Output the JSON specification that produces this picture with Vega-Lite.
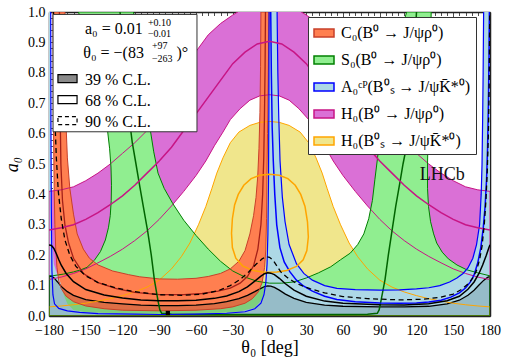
{
"$schema":"https://vega.github.io/schema/vega-lite/v6.json",
"width":441,"height":304,
"autosize":{"type":"none"},
"padding":{"left":49,"top":12,"right":15,"bottom":44},
"background":"white",
"config":{
 "view":{"stroke":null},
 "axis":{"labelFont":"Liberation Serif","labelFontSize":14,"labelColor":"#000","titleFont":"Liberation Serif","titleFontSize":18,"titleFontWeight":"normal","titleColor":"#000","domainColor":"#222","domainWidth":1.5,"tickColor":"#222","tickWidth":0.8,"grid":false,"zindex":1,"labelFlush":false,"labelOverlap":false}
},
"datasets":{
"poly":[
{"b":"Hd","i":0,"t":-180,"a":0.12},{"b":"Hd","i":1,"t":-170,"a":0.128},{"b":"Hd","i":2,"t":-160,"a":0.14},{"b":"Hd","i":3,"t":-150,"a":0.155},{"b":"Hd","i":4,"t":-140,"a":0.175},{"b":"Hd","i":5,"t":-130,"a":0.196},{"b":"Hd","i":6,"t":-120,"a":0.22},{"b":"Hd","i":7,"t":-110,"a":0.248},{"b":"Hd","i":8,"t":-100,"a":0.28},{"b":"Hd","i":9,"t":-90,"a":0.318},{"b":"Hd","i":10,"t":-80,"a":0.362},{"b":"Hd","i":11,"t":-70,"a":0.41},{"b":"Hd","i":12,"t":-60,"a":0.462},{"b":"Hd","i":13,"t":-52,"a":0.51},{"b":"Hd","i":14,"t":-45,"a":0.56},{"b":"Hd","i":15,"t":-38,"a":0.605},{"b":"Hd","i":16,"t":-32,"a":0.646},{"b":"Hd","i":17,"t":-24,"a":0.682},{"b":"Hd","i":18,"t":-16,"a":0.71},{"b":"Hd","i":19,"t":-8,"a":0.724},{"b":"Hd","i":20,"t":0,"a":0.728},{"b":"Hd","i":21,"t":8,"a":0.724},{"b":"Hd","i":22,"t":16,"a":0.71},{"b":"Hd","i":23,"t":24,"a":0.682},{"b":"Hd","i":24,"t":32,"a":0.646},{"b":"Hd","i":25,"t":38,"a":0.605},{"b":"Hd","i":26,"t":45,"a":0.56},{"b":"Hd","i":27,"t":52,"a":0.51},{"b":"Hd","i":28,"t":60,"a":0.462},{"b":"Hd","i":29,"t":70,"a":0.41},{"b":"Hd","i":30,"t":80,"a":0.362},{"b":"Hd","i":31,"t":90,"a":0.318},{"b":"Hd","i":32,"t":100,"a":0.28},{"b":"Hd","i":33,"t":110,"a":0.248},{"b":"Hd","i":34,"t":120,"a":0.22},{"b":"Hd","i":35,"t":130,"a":0.196},{"b":"Hd","i":36,"t":140,"a":0.175},{"b":"Hd","i":37,"t":150,"a":0.155},{"b":"Hd","i":38,"t":160,"a":0.14},{"b":"Hd","i":39,"t":170,"a":0.128},{"b":"Hd","i":40,"t":180,"a":0.12},
{"b":"Hd","i":41,"t":180,"a":0.41},{"b":"Hd","i":42,"t":170,"a":0.415},{"b":"Hd","i":43,"t":160,"a":0.425},{"b":"Hd","i":44,"t":150,"a":0.445},{"b":"Hd","i":45,"t":140,"a":0.47},{"b":"Hd","i":46,"t":130,"a":0.5},{"b":"Hd","i":47,"t":120,"a":0.535},{"b":"Hd","i":48,"t":110,"a":0.57},{"b":"Hd","i":49,"t":100,"a":0.61},{"b":"Hd","i":50,"t":90,"a":0.66},{"b":"Hd","i":51,"t":80,"a":0.72},{"b":"Hd","i":52,"t":70,"a":0.79},{"b":"Hd","i":53,"t":60,"a":0.87},{"b":"Hd","i":54,"t":50,"a":0.925},{"b":"Hd","i":55,"t":40,"a":0.962},{"b":"Hd","i":56,"t":30,"a":0.99},{"b":"Hd","i":57,"t":20,"a":1.015},{"b":"Hd","i":58,"t":10,"a":1.03},{"b":"Hd","i":59,"t":0,"a":1.035},{"b":"Hd","i":60,"t":-10,"a":1.03},{"b":"Hd","i":61,"t":-20,"a":1.015},{"b":"Hd","i":62,"t":-30,"a":0.99},{"b":"Hd","i":63,"t":-40,"a":0.962},{"b":"Hd","i":64,"t":-50,"a":0.925},{"b":"Hd","i":65,"t":-60,"a":0.87},{"b":"Hd","i":66,"t":-70,"a":0.79},{"b":"Hd","i":67,"t":-80,"a":0.72},{"b":"Hd","i":68,"t":-90,"a":0.66},{"b":"Hd","i":69,"t":-100,"a":0.61},{"b":"Hd","i":70,"t":-110,"a":0.57},{"b":"Hd","i":71,"t":-120,"a":0.535},{"b":"Hd","i":72,"t":-130,"a":0.5},{"b":"Hd","i":73,"t":-140,"a":0.47},{"b":"Hd","i":74,"t":-150,"a":0.445},{"b":"Hd","i":75,"t":-160,"a":0.425},{"b":"Hd","i":76,"t":-170,"a":0.415},{"b":"Hd","i":77,"t":-180,"a":0.41},{"b":"Hd","i":78,"t":-180,"a":0.12},
{"b":"Hs","i":0,"t":-180,"a":0},{"b":"Hs","i":1,"t":-180,"a":0.03},{"b":"Hs","i":2,"t":-170,"a":0.033},{"b":"Hs","i":3,"t":-160,"a":0.037},{"b":"Hs","i":4,"t":-150,"a":0.042},{"b":"Hs","i":5,"t":-140,"a":0.049},{"b":"Hs","i":6,"t":-130,"a":0.057},{"b":"Hs","i":7,"t":-120,"a":0.067},{"b":"Hs","i":8,"t":-110,"a":0.079},{"b":"Hs","i":9,"t":-100,"a":0.095},{"b":"Hs","i":10,"t":-90,"a":0.118},{"b":"Hs","i":11,"t":-80,"a":0.155},{"b":"Hs","i":12,"t":-72,"a":0.195},{"b":"Hs","i":13,"t":-65,"a":0.24},{"b":"Hs","i":14,"t":-58,"a":0.3},{"b":"Hs","i":15,"t":-52,"a":0.36},{"b":"Hs","i":16,"t":-47,"a":0.42},{"b":"Hs","i":17,"t":-43,"a":0.47},{"b":"Hs","i":18,"t":-38,"a":0.52},{"b":"Hs","i":19,"t":-32,"a":0.57},{"b":"Hs","i":20,"t":-25,"a":0.605},{"b":"Hs","i":21,"t":-16,"a":0.627},{"b":"Hs","i":22,"t":-8,"a":0.637},{"b":"Hs","i":23,"t":0,"a":0.64},{"b":"Hs","i":24,"t":8,"a":0.637},{"b":"Hs","i":25,"t":16,"a":0.627},{"b":"Hs","i":26,"t":25,"a":0.605},{"b":"Hs","i":27,"t":32,"a":0.57},{"b":"Hs","i":28,"t":38,"a":0.52},{"b":"Hs","i":29,"t":43,"a":0.47},{"b":"Hs","i":30,"t":47,"a":0.42},{"b":"Hs","i":31,"t":52,"a":0.36},{"b":"Hs","i":32,"t":58,"a":0.3},{"b":"Hs","i":33,"t":65,"a":0.24},{"b":"Hs","i":34,"t":72,"a":0.195},{"b":"Hs","i":35,"t":80,"a":0.155},{"b":"Hs","i":36,"t":90,"a":0.118},{"b":"Hs","i":37,"t":100,"a":0.095},{"b":"Hs","i":38,"t":110,"a":0.079},{"b":"Hs","i":39,"t":120,"a":0.067},{"b":"Hs","i":40,"t":130,"a":0.057},{"b":"Hs","i":41,"t":140,"a":0.049},{"b":"Hs","i":42,"t":150,"a":0.042},{"b":"Hs","i":43,"t":160,"a":0.037},{"b":"Hs","i":44,"t":170,"a":0.033},{"b":"Hs","i":45,"t":180,"a":0.03},{"b":"Hs","i":46,"t":180,"a":0},{"b":"Hs","i":47,"t":-180,"a":0},
{"b":"S0","i":0,"t":-180,"a":0},{"b":"S0","i":1,"t":-180,"a":0.132},{"b":"S0","i":2,"t":-176,"a":0.133},{"b":"S0","i":3,"t":-168,"a":0.138},{"b":"S0","i":4,"t":-160,"a":0.145},{"b":"S0","i":5,"t":-154,"a":0.152},{"b":"S0","i":6,"t":-149,"a":0.16},{"b":"S0","i":7,"t":-143,"a":0.183},{"b":"S0","i":8,"t":-138,"a":0.212},{"b":"S0","i":9,"t":-134,"a":0.25},{"b":"S0","i":10,"t":-131.5,"a":0.29},{"b":"S0","i":11,"t":-130,"a":0.33},{"b":"S0","i":12,"t":-129.2,"a":0.38},{"b":"S0","i":13,"t":-129,"a":0.43},{"b":"S0","i":14,"t":-129.4,"a":0.49},{"b":"S0","i":15,"t":-130.5,"a":0.55},{"b":"S0","i":16,"t":-132.5,"a":0.62},{"b":"S0","i":17,"t":-135.5,"a":0.69},{"b":"S0","i":18,"t":-139.5,"a":0.77},{"b":"S0","i":19,"t":-144.5,"a":0.85},{"b":"S0","i":20,"t":-150,"a":0.93},{"b":"S0","i":21,"t":-156,"a":1},{"b":"S0","i":22,"t":-111,"a":1},{"b":"S0","i":23,"t":-106.5,"a":0.86},{"b":"S0","i":24,"t":-102,"a":0.74},{"b":"S0","i":25,"t":-98,"a":0.63},{"b":"S0","i":26,"t":-94.5,"a":0.54},{"b":"S0","i":27,"t":-91,"a":0.47},{"b":"S0","i":28,"t":-86,"a":0.42},{"b":"S0","i":29,"t":-79,"a":0.37},{"b":"S0","i":30,"t":-70,"a":0.315},{"b":"S0","i":31,"t":-60,"a":0.265},{"b":"S0","i":32,"t":-50,"a":0.22},{"b":"S0","i":33,"t":-40,"a":0.18},{"b":"S0","i":34,"t":-30,"a":0.148},{"b":"S0","i":35,"t":-20,"a":0.128},{"b":"S0","i":36,"t":-10,"a":0.114},{"b":"S0","i":37,"t":0,"a":0.108},{"b":"S0","i":38,"t":10,"a":0.108},{"b":"S0","i":39,"t":20,"a":0.112},{"b":"S0","i":40,"t":30,"a":0.125},{"b":"S0","i":41,"t":40,"a":0.142},{"b":"S0","i":42,"t":50,"a":0.162},{"b":"S0","i":43,"t":58,"a":0.185},{"b":"S0","i":44,"t":66,"a":0.207},{"b":"S0","i":45,"t":72,"a":0.235},{"b":"S0","i":46,"t":77,"a":0.27},{"b":"S0","i":47,"t":81,"a":0.32},{"b":"S0","i":48,"t":84,"a":0.38},{"b":"S0","i":49,"t":86,"a":0.448},{"b":"S0","i":50,"t":88.5,"a":0.53},{"b":"S0","i":51,"t":92,"a":0.63},{"b":"S0","i":52,"t":96,"a":0.73},{"b":"S0","i":53,"t":101,"a":0.83},{"b":"S0","i":54,"t":106,"a":0.92},{"b":"S0","i":55,"t":112,"a":1},{"b":"S0","i":56,"t":132,"a":1},{"b":"S0","i":57,"t":131,"a":0.8},{"b":"S0","i":58,"t":130,"a":0.71},{"b":"S0","i":59,"t":129.5,"a":0.6},{"b":"S0","i":60,"t":129,"a":0.5},{"b":"S0","i":61,"t":129,"a":0.42},{"b":"S0","i":62,"t":129.8,"a":0.36},{"b":"S0","i":63,"t":131.5,"a":0.31},{"b":"S0","i":64,"t":134,"a":0.27},{"b":"S0","i":65,"t":136.5,"a":0.24},{"b":"S0","i":66,"t":141,"a":0.21},{"b":"S0","i":67,"t":146,"a":0.188},{"b":"S0","i":68,"t":153,"a":0.168},{"b":"S0","i":69,"t":161,"a":0.152},{"b":"S0","i":70,"t":170,"a":0.142},{"b":"S0","i":71,"t":180,"a":0.132},{"b":"S0","i":72,"t":180,"a":0},{"b":"S0","i":73,"t":-180,"a":0},
{"b":"C0","i":0,"t":-176.7,"a":1},{"b":"C0","i":1,"t":-167,"a":1},{"b":"C0","i":2,"t":-166,"a":0.62},{"b":"C0","i":3,"t":-165,"a":0.52},{"b":"C0","i":4,"t":-163,"a":0.42},{"b":"C0","i":5,"t":-160,"a":0.335},{"b":"C0","i":6,"t":-157,"a":0.27},{"b":"C0","i":7,"t":-152,"a":0.22},{"b":"C0","i":8,"t":-147,"a":0.19},{"b":"C0","i":9,"t":-140,"a":0.168},{"b":"C0","i":10,"t":-128,"a":0.148},{"b":"C0","i":11,"t":-115,"a":0.136},{"b":"C0","i":12,"t":-106,"a":0.129},{"b":"C0","i":13,"t":-90,"a":0.122},{"b":"C0","i":14,"t":-75,"a":0.121},{"b":"C0","i":15,"t":-60,"a":0.124},{"b":"C0","i":16,"t":-50,"a":0.13},{"b":"C0","i":17,"t":-40,"a":0.14},{"b":"C0","i":18,"t":-32,"a":0.155},{"b":"C0","i":19,"t":-25,"a":0.18},{"b":"C0","i":20,"t":-20,"a":0.215},{"b":"C0","i":21,"t":-16,"a":0.27},{"b":"C0","i":22,"t":-13,"a":0.33},{"b":"C0","i":23,"t":-11,"a":0.39},{"b":"C0","i":24,"t":-9.6,"a":0.46},{"b":"C0","i":25,"t":-8.6,"a":0.55},{"b":"C0","i":26,"t":-7.8,"a":0.67},{"b":"C0","i":27,"t":-7.3,"a":0.82},{"b":"C0","i":28,"t":-7,"a":1},{"b":"C0","i":29,"t":-0.3,"a":1},{"b":"C0","i":30,"t":-1,"a":0.8},{"b":"C0","i":31,"t":-1.6,"a":0.6},{"b":"C0","i":32,"t":-2.1,"a":0.45},{"b":"C0","i":33,"t":-2.4,"a":0.32},{"b":"C0","i":34,"t":-3,"a":0.22},{"b":"C0","i":35,"t":-4,"a":0.16},{"b":"C0","i":36,"t":-6,"a":0.11},{"b":"C0","i":37,"t":-9,"a":0.08},{"b":"C0","i":38,"t":-14,"a":0.057},{"b":"C0","i":39,"t":-20,"a":0.042},{"b":"C0","i":40,"t":-30,"a":0.03},{"b":"C0","i":41,"t":-40,"a":0.024},{"b":"C0","i":42,"t":-60,"a":0.019},{"b":"C0","i":43,"t":-90,"a":0.017},{"b":"C0","i":44,"t":-120,"a":0.019},{"b":"C0","i":45,"t":-135,"a":0.024},{"b":"C0","i":46,"t":-150,"a":0.033},{"b":"C0","i":47,"t":-160,"a":0.047},{"b":"C0","i":48,"t":-166,"a":0.065},{"b":"C0","i":49,"t":-170,"a":0.09},{"b":"C0","i":50,"t":-172,"a":0.115},{"b":"C0","i":51,"t":-173.5,"a":0.16},{"b":"C0","i":52,"t":-174.5,"a":0.22},{"b":"C0","i":53,"t":-175.2,"a":0.3},{"b":"C0","i":54,"t":-175.8,"a":0.42},{"b":"C0","i":55,"t":-176.3,"a":0.6},{"b":"C0","i":56,"t":-176.7,"a":1},
{"b":"A0","i":0,"t":-180,"a":0},{"b":"A0","i":1,"t":-180,"a":1},{"b":"A0","i":2,"t":-178.6,"a":1},{"b":"A0","i":3,"t":-178.3,"a":0.6},{"b":"A0","i":4,"t":-178,"a":0.42},{"b":"A0","i":5,"t":-177.6,"a":0.3},{"b":"A0","i":6,"t":-177,"a":0.22},{"b":"A0","i":7,"t":-176,"a":0.17},{"b":"A0","i":8,"t":-174,"a":0.145},{"b":"A0","i":9,"t":-172,"a":0.128},{"b":"A0","i":10,"t":-170,"a":0.1},{"b":"A0","i":11,"t":-168,"a":0.07},{"b":"A0","i":12,"t":-165,"a":0.04},{"b":"A0","i":13,"t":-160,"a":0.02},{"b":"A0","i":14,"t":-150,"a":0.012},{"b":"A0","i":15,"t":-120,"a":0.008},{"b":"A0","i":16,"t":-90,"a":0.006},{"b":"A0","i":17,"t":-50,"a":0.008},{"b":"A0","i":18,"t":-25,"a":0.014},{"b":"A0","i":19,"t":-12,"a":0.028},{"b":"A0","i":20,"t":-6,"a":0.055},{"b":"A0","i":21,"t":-3.5,"a":0.1},{"b":"A0","i":22,"t":-2.2,"a":0.18},{"b":"A0","i":23,"t":-1.4,"a":0.3},{"b":"A0","i":24,"t":-0.9,"a":0.5},{"b":"A0","i":25,"t":-0.5,"a":0.75},{"b":"A0","i":26,"t":-0.3,"a":1},{"b":"A0","i":27,"t":6.2,"a":1},{"b":"A0","i":28,"t":6.8,"a":0.8},{"b":"A0","i":29,"t":7.6,"a":0.65},{"b":"A0","i":30,"t":8.6,"a":0.51},{"b":"A0","i":31,"t":10.5,"a":0.39},{"b":"A0","i":32,"t":12.7,"a":0.31},{"b":"A0","i":33,"t":16,"a":0.235},{"b":"A0","i":34,"t":22,"a":0.172},{"b":"A0","i":35,"t":28,"a":0.14},{"b":"A0","i":36,"t":35,"a":0.118},{"b":"A0","i":37,"t":45,"a":0.1},{"b":"A0","i":38,"t":55,"a":0.091},{"b":"A0","i":39,"t":70,"a":0.087},{"b":"A0","i":40,"t":90,"a":0.085},{"b":"A0","i":41,"t":106,"a":0.086},{"b":"A0","i":42,"t":120,"a":0.089},{"b":"A0","i":43,"t":130,"a":0.093},{"b":"A0","i":44,"t":139,"a":0.1},{"b":"A0","i":45,"t":147,"a":0.112},{"b":"A0","i":46,"t":153,"a":0.125},{"b":"A0","i":47,"t":158,"a":0.14},{"b":"A0","i":48,"t":162,"a":0.158},{"b":"A0","i":49,"t":166,"a":0.19},{"b":"A0","i":50,"t":169,"a":0.235},{"b":"A0","i":51,"t":171.5,"a":0.3},{"b":"A0","i":52,"t":172.8,"a":0.4},{"b":"A0","i":53,"t":173.5,"a":0.5},{"b":"A0","i":54,"t":174,"a":0.65},{"b":"A0","i":55,"t":174.4,"a":0.8},{"b":"A0","i":56,"t":174.8,"a":1},{"b":"A0","i":57,"t":180,"a":1},{"b":"A0","i":58,"t":180,"a":0},{"b":"A0","i":59,"t":-180,"a":0},
{"b":"CL39","i":0,"t":-180,"a":0},{"b":"CL39","i":1,"t":-180,"a":0.13},{"b":"CL39","i":2,"t":-178,"a":0.131},{"b":"CL39","i":3,"t":-176,"a":0.126},{"b":"CL39","i":4,"t":-173,"a":0.112},{"b":"CL39","i":5,"t":-170,"a":0.097},{"b":"CL39","i":6,"t":-165,"a":0.08},{"b":"CL39","i":7,"t":-160,"a":0.068},{"b":"CL39","i":8,"t":-150,"a":0.054},{"b":"CL39","i":9,"t":-135,"a":0.045},{"b":"CL39","i":10,"t":-120,"a":0.04},{"b":"CL39","i":11,"t":-105,"a":0.036},{"b":"CL39","i":12,"t":-90,"a":0.034},{"b":"CL39","i":13,"t":-75,"a":0.034},{"b":"CL39","i":14,"t":-60,"a":0.036},{"b":"CL39","i":15,"t":-45,"a":0.041},{"b":"CL39","i":16,"t":-35,"a":0.047},{"b":"CL39","i":17,"t":-25,"a":0.057},{"b":"CL39","i":18,"t":-18,"a":0.068},{"b":"CL39","i":19,"t":-12,"a":0.08},{"b":"CL39","i":20,"t":-7,"a":0.091},{"b":"CL39","i":21,"t":-4,"a":0.097},{"b":"CL39","i":22,"t":-1.5,"a":0.099},{"b":"CL39","i":23,"t":1,"a":0.098},{"b":"CL39","i":24,"t":4,"a":0.094},{"b":"CL39","i":25,"t":8,"a":0.085},{"b":"CL39","i":26,"t":13,"a":0.072},{"b":"CL39","i":27,"t":20,"a":0.058},{"b":"CL39","i":28,"t":30,"a":0.045},{"b":"CL39","i":29,"t":45,"a":0.036},{"b":"CL39","i":30,"t":60,"a":0.032},{"b":"CL39","i":31,"t":90,"a":0.03},{"b":"CL39","i":32,"t":110,"a":0.03},{"b":"CL39","i":33,"t":130,"a":0.032},{"b":"CL39","i":34,"t":145,"a":0.04},{"b":"CL39","i":35,"t":155,"a":0.052},{"b":"CL39","i":36,"t":162,"a":0.068},{"b":"CL39","i":37,"t":167,"a":0.085},{"b":"CL39","i":38,"t":171,"a":0.102},{"b":"CL39","i":39,"t":175,"a":0.118},{"b":"CL39","i":40,"t":178,"a":0.127},{"b":"CL39","i":41,"t":180,"a":0.13},{"b":"CL39","i":42,"t":180,"a":0},{"b":"CL39","i":43,"t":-180,"a":0}
],
"curves":[
{"c":"c0mid","i":0,"t":-171.5,"a":1},{"c":"c0mid","i":1,"t":-171,"a":0.7},{"c":"c0mid","i":2,"t":-170.3,"a":0.5},{"c":"c0mid","i":3,"t":-169,"a":0.38},{"c":"c0mid","i":4,"t":-167,"a":0.3},{"c":"c0mid","i":5,"t":-164,"a":0.24},{"c":"c0mid","i":6,"t":-160,"a":0.19},{"c":"c0mid","i":7,"t":-152,"a":0.14},{"c":"c0mid","i":8,"t":-140,"a":0.11},{"c":"c0mid","i":9,"t":-125,"a":0.09},{"c":"c0mid","i":10,"t":-110,"a":0.078},{"c":"c0mid","i":11,"t":-90,"a":0.07},{"c":"c0mid","i":12,"t":-70,"a":0.07},{"c":"c0mid","i":13,"t":-55,"a":0.074},{"c":"c0mid","i":14,"t":-42,"a":0.082},{"c":"c0mid","i":15,"t":-32,"a":0.092},{"c":"c0mid","i":16,"t":-24,"a":0.108},{"c":"c0mid","i":17,"t":-18,"a":0.13},{"c":"c0mid","i":18,"t":-13,"a":0.165},{"c":"c0mid","i":19,"t":-9.5,"a":0.22},{"c":"c0mid","i":20,"t":-7,"a":0.3},{"c":"c0mid","i":21,"t":-5.6,"a":0.4},{"c":"c0mid","i":22,"t":-4.7,"a":0.52},{"c":"c0mid","i":23,"t":-4.1,"a":0.66},{"c":"c0mid","i":24,"t":-3.6,"a":0.82},{"c":"c0mid","i":25,"t":-3.3,"a":1},
{"c":"s0mid","i":0,"t":-122,"a":1},{"c":"s0mid","i":1,"t":-119,"a":0.85},{"c":"s0mid","i":2,"t":-116,"a":0.7},{"c":"s0mid","i":3,"t":-112,"a":0.57},{"c":"s0mid","i":4,"t":-109,"a":0.5},{"c":"s0mid","i":5,"t":-106.5,"a":0.44},{"c":"s0mid","i":6,"t":-103,"a":0.36},{"c":"s0mid","i":7,"t":-99.5,"a":0.28},{"c":"s0mid","i":8,"t":-96.5,"a":0.2},{"c":"s0mid","i":9,"t":-94,"a":0.12},{"c":"s0mid","i":10,"t":-91,"a":0.05},{"c":"s0mid","i":11,"t":-89.5,"a":0.02},{"c":"s0mid","i":12,"t":-88,"a":0.009},{"c":"s0mid","i":13,"t":-80,"a":0.006},{"c":"s0mid","i":14,"t":0,"a":0.005},{"c":"s0mid","i":15,"t":80,"a":0.006},{"c":"s0mid","i":16,"t":88,"a":0.009},{"c":"s0mid","i":17,"t":89.5,"a":0.02},{"c":"s0mid","i":18,"t":91,"a":0.05},{"c":"s0mid","i":19,"t":94.3,"a":0.12},{"c":"s0mid","i":20,"t":97,"a":0.2},{"c":"s0mid","i":21,"t":100,"a":0.28},{"c":"s0mid","i":22,"t":103,"a":0.36},{"c":"s0mid","i":23,"t":106.5,"a":0.44},{"c":"s0mid","i":24,"t":109,"a":0.5},{"c":"s0mid","i":25,"t":112,"a":0.56},{"c":"s0mid","i":26,"t":115,"a":0.68},{"c":"s0mid","i":27,"t":118,"a":0.85},{"c":"s0mid","i":28,"t":120,"a":1},
{"c":"bout","i":0,"t":6.2,"a":1},{"c":"bout","i":1,"t":6.8,"a":0.8},{"c":"bout","i":2,"t":7.6,"a":0.65},{"c":"bout","i":3,"t":8.6,"a":0.51},{"c":"bout","i":4,"t":10.5,"a":0.39},{"c":"bout","i":5,"t":12.7,"a":0.31},{"c":"bout","i":6,"t":16,"a":0.235},{"c":"bout","i":7,"t":22,"a":0.172},{"c":"bout","i":8,"t":28,"a":0.14},{"c":"bout","i":9,"t":35,"a":0.118},{"c":"bout","i":10,"t":45,"a":0.1},{"c":"bout","i":11,"t":55,"a":0.091},{"c":"bout","i":12,"t":70,"a":0.087},{"c":"bout","i":13,"t":90,"a":0.085},{"c":"bout","i":14,"t":106,"a":0.086},{"c":"bout","i":15,"t":120,"a":0.089},{"c":"bout","i":16,"t":130,"a":0.093},{"c":"bout","i":17,"t":139,"a":0.1},{"c":"bout","i":18,"t":147,"a":0.112},{"c":"bout","i":19,"t":153,"a":0.125},{"c":"bout","i":20,"t":158,"a":0.14},{"c":"bout","i":21,"t":162,"a":0.158},{"c":"bout","i":22,"t":166,"a":0.19},{"c":"bout","i":23,"t":169,"a":0.235},{"c":"bout","i":24,"t":171.5,"a":0.3},{"c":"bout","i":25,"t":172.8,"a":0.4},{"c":"bout","i":26,"t":173.5,"a":0.5},{"c":"bout","i":27,"t":174,"a":0.65},{"c":"bout","i":28,"t":174.4,"a":0.8},{"c":"bout","i":29,"t":174.8,"a":1},
{"c":"bneg","i":0,"t":-178.6,"a":1},{"c":"bneg","i":1,"t":-178.4,"a":0.6},{"c":"bneg","i":2,"t":-178.1,"a":0.35},{"c":"bneg","i":3,"t":-177.6,"a":0.15},{"c":"bneg","i":4,"t":-176.8,"a":0.07},{"c":"bneg","i":5,"t":-175.5,"a":0.04},{"c":"bneg","i":6,"t":-172,"a":0.025},{"c":"bneg","i":7,"t":-165,"a":0.017},{"c":"bneg","i":8,"t":-155,"a":0.012},{"c":"bneg","i":9,"t":-140,"a":0.008},{"c":"bneg","i":10,"t":-110,"a":0.006},{"c":"bneg","i":11,"t":-90,"a":0.005},{"c":"bneg","i":12,"t":-60,"a":0.006},{"c":"bneg","i":13,"t":-35,"a":0.009},{"c":"bneg","i":14,"t":-20,"a":0.014},{"c":"bneg","i":15,"t":-12,"a":0.024},{"c":"bneg","i":16,"t":-7,"a":0.042},{"c":"bneg","i":17,"t":-4.5,"a":0.07},{"c":"bneg","i":18,"t":-3,"a":0.11},{"c":"bneg","i":19,"t":-2,"a":0.17},{"c":"bneg","i":20,"t":-1.3,"a":0.27},{"c":"bneg","i":21,"t":-0.8,"a":0.45},{"c":"bneg","i":22,"t":-0.5,"a":0.7},{"c":"bneg","i":23,"t":-0.35,"a":1},
{"c":"bmid","i":0,"t":1,"a":1},{"c":"bmid","i":1,"t":1.5,"a":0.8},{"c":"bmid","i":2,"t":2.2,"a":0.62},{"c":"bmid","i":3,"t":3.1,"a":0.51},{"c":"bmid","i":4,"t":4.3,"a":0.4},{"c":"bmid","i":5,"t":5.9,"a":0.3},{"c":"bmid","i":6,"t":8.5,"a":0.225},{"c":"bmid","i":7,"t":12,"a":0.178},{"c":"bmid","i":8,"t":16.7,"a":0.145},{"c":"bmid","i":9,"t":22,"a":0.118},{"c":"bmid","i":10,"t":28,"a":0.098},{"c":"bmid","i":11,"t":35,"a":0.082},{"c":"bmid","i":12,"t":45,"a":0.065},{"c":"bmid","i":13,"t":55,"a":0.054},{"c":"bmid","i":14,"t":70,"a":0.047},{"c":"bmid","i":15,"t":90,"a":0.043},{"c":"bmid","i":16,"t":106,"a":0.042},{"c":"bmid","i":17,"t":120,"a":0.043},{"c":"bmid","i":18,"t":130,"a":0.046},{"c":"bmid","i":19,"t":140,"a":0.052},{"c":"bmid","i":20,"t":148,"a":0.062},{"c":"bmid","i":21,"t":155,"a":0.076},{"c":"bmid","i":22,"t":160,"a":0.092},{"c":"bmid","i":23,"t":164,"a":0.112},{"c":"bmid","i":24,"t":167,"a":0.135},{"c":"bmid","i":25,"t":170,"a":0.175},{"c":"bmid","i":26,"t":172.5,"a":0.225},{"c":"bmid","i":27,"t":174.5,"a":0.29},{"c":"bmid","i":28,"t":176,"a":0.36},{"c":"bmid","i":29,"t":177.2,"a":0.45},{"c":"bmid","i":30,"t":178,"a":0.55},{"c":"bmid","i":31,"t":178.7,"a":0.7},{"c":"bmid","i":32,"t":179.2,"a":0.85},{"c":"bmid","i":33,"t":179.5,"a":1},
{"c":"mmid","i":0,"t":-180,"a":0.283},{"c":"mmid","i":1,"t":-170,"a":0.29},{"c":"mmid","i":2,"t":-160,"a":0.3},{"c":"mmid","i":3,"t":-150,"a":0.318},{"c":"mmid","i":4,"t":-140,"a":0.34},{"c":"mmid","i":5,"t":-130,"a":0.366},{"c":"mmid","i":6,"t":-120,"a":0.395},{"c":"mmid","i":7,"t":-110,"a":0.43},{"c":"mmid","i":8,"t":-100,"a":0.47},{"c":"mmid","i":9,"t":-90,"a":0.51},{"c":"mmid","i":10,"t":-80,"a":0.555},{"c":"mmid","i":11,"t":-70,"a":0.61},{"c":"mmid","i":12,"t":-60,"a":0.665},{"c":"mmid","i":13,"t":-50,"a":0.72},{"c":"mmid","i":14,"t":-40,"a":0.775},{"c":"mmid","i":15,"t":-30,"a":0.83},{"c":"mmid","i":16,"t":-20,"a":0.868},{"c":"mmid","i":17,"t":-10,"a":0.895},{"c":"mmid","i":18,"t":0,"a":0.904},{"c":"mmid","i":19,"t":10,"a":0.895},{"c":"mmid","i":20,"t":20,"a":0.868},{"c":"mmid","i":21,"t":30,"a":0.83},{"c":"mmid","i":22,"t":40,"a":0.775},{"c":"mmid","i":23,"t":50,"a":0.72},{"c":"mmid","i":24,"t":60,"a":0.665},{"c":"mmid","i":25,"t":70,"a":0.61},{"c":"mmid","i":26,"t":80,"a":0.555},{"c":"mmid","i":27,"t":90,"a":0.51},{"c":"mmid","i":28,"t":100,"a":0.47},{"c":"mmid","i":29,"t":110,"a":0.43},{"c":"mmid","i":30,"t":120,"a":0.395},{"c":"mmid","i":31,"t":130,"a":0.366},{"c":"mmid","i":32,"t":140,"a":0.34},{"c":"mmid","i":33,"t":150,"a":0.318},{"c":"mmid","i":34,"t":160,"a":0.3},{"c":"mmid","i":35,"t":170,"a":0.29},{"c":"mmid","i":36,"t":180,"a":0.283},
{"c":"yoval","i":0,"t":-31,"a":0.272},{"c":"yoval","i":1,"t":-30.3,"a":0.32},{"c":"yoval","i":2,"t":-28.5,"a":0.365},{"c":"yoval","i":3,"t":-25.5,"a":0.4},{"c":"yoval","i":4,"t":-21,"a":0.43},{"c":"yoval","i":5,"t":-15,"a":0.452},{"c":"yoval","i":6,"t":-8,"a":0.463},{"c":"yoval","i":7,"t":0,"a":0.466},{"c":"yoval","i":8,"t":8,"a":0.463},{"c":"yoval","i":9,"t":15,"a":0.452},{"c":"yoval","i":10,"t":21,"a":0.43},{"c":"yoval","i":11,"t":25.5,"a":0.4},{"c":"yoval","i":12,"t":29,"a":0.36},{"c":"yoval","i":13,"t":31,"a":0.31},{"c":"yoval","i":14,"t":31.7,"a":0.26},{"c":"yoval","i":15,"t":30.5,"a":0.215},{"c":"yoval","i":16,"t":27.5,"a":0.185},{"c":"yoval","i":17,"t":22,"a":0.163},{"c":"yoval","i":18,"t":14,"a":0.15},{"c":"yoval","i":19,"t":6,"a":0.145},{"c":"yoval","i":20,"t":0,"a":0.144},{"c":"yoval","i":21,"t":-6,"a":0.145},{"c":"yoval","i":22,"t":-14,"a":0.15},{"c":"yoval","i":23,"t":-22,"a":0.165},{"c":"yoval","i":24,"t":-27.5,"a":0.19},{"c":"yoval","i":25,"t":-30.3,"a":0.225},{"c":"yoval","i":26,"t":-31,"a":0.272},
{"c":"k68","i":0,"t":-180,"a":0.234},{"c":"k68","i":1,"t":-178,"a":0.232},{"c":"k68","i":2,"t":-176,"a":0.222},{"c":"k68","i":3,"t":-174,"a":0.205},{"c":"k68","i":4,"t":-172,"a":0.185},{"c":"k68","i":5,"t":-170,"a":0.167},{"c":"k68","i":6,"t":-166,"a":0.14},{"c":"k68","i":7,"t":-160,"a":0.113},{"c":"k68","i":8,"t":-150,"a":0.087},{"c":"k68","i":9,"t":-135,"a":0.069},{"c":"k68","i":10,"t":-120,"a":0.059},{"c":"k68","i":11,"t":-105,"a":0.053},{"c":"k68","i":12,"t":-90,"a":0.05},{"c":"k68","i":13,"t":-75,"a":0.05},{"c":"k68","i":14,"t":-60,"a":0.052},{"c":"k68","i":15,"t":-45,"a":0.058},{"c":"k68","i":16,"t":-35,"a":0.066},{"c":"k68","i":17,"t":-25,"a":0.08},{"c":"k68","i":18,"t":-18,"a":0.096},{"c":"k68","i":19,"t":-12,"a":0.115},{"c":"k68","i":20,"t":-7,"a":0.131},{"c":"k68","i":21,"t":-4,"a":0.139},{"c":"k68","i":22,"t":-1.5,"a":0.142},{"c":"k68","i":23,"t":1,"a":0.141},{"c":"k68","i":24,"t":4,"a":0.136},{"c":"k68","i":25,"t":8,"a":0.124},{"c":"k68","i":26,"t":13,"a":0.106},{"c":"k68","i":27,"t":20,"a":0.085},{"c":"k68","i":28,"t":30,"a":0.065},{"c":"k68","i":29,"t":45,"a":0.049},{"c":"k68","i":30,"t":60,"a":0.042},{"c":"k68","i":31,"t":90,"a":0.037},{"c":"k68","i":32,"t":110,"a":0.036},{"c":"k68","i":33,"t":130,"a":0.04},{"c":"k68","i":34,"t":145,"a":0.05},{"c":"k68","i":35,"t":155,"a":0.065},{"c":"k68","i":36,"t":162,"a":0.088},{"c":"k68","i":37,"t":167,"a":0.112},{"c":"k68","i":38,"t":171,"a":0.14},{"c":"k68","i":39,"t":174,"a":0.168},{"c":"k68","i":40,"t":177,"a":0.2},{"c":"k68","i":41,"t":179,"a":0.224},{"c":"k68","i":42,"t":180,"a":0.234},
{"c":"k90","i":0,"t":-176.3,"a":1},{"c":"k90","i":1,"t":-175.8,"a":0.8},{"c":"k90","i":2,"t":-175,"a":0.63},{"c":"k90","i":3,"t":-174,"a":0.52},{"c":"k90","i":4,"t":-172.4,"a":0.41},{"c":"k90","i":5,"t":-170,"a":0.32},{"c":"k90","i":6,"t":-167,"a":0.25},{"c":"k90","i":7,"t":-163,"a":0.2},{"c":"k90","i":8,"t":-158,"a":0.163},{"c":"k90","i":9,"t":-150,"a":0.132},{"c":"k90","i":10,"t":-140,"a":0.11},{"c":"k90","i":11,"t":-125,"a":0.092},{"c":"k90","i":12,"t":-110,"a":0.08},{"c":"k90","i":13,"t":-90,"a":0.07},{"c":"k90","i":14,"t":-70,"a":0.068},{"c":"k90","i":15,"t":-55,"a":0.072},{"c":"k90","i":16,"t":-42,"a":0.083},{"c":"k90","i":17,"t":-32,"a":0.1},{"c":"k90","i":18,"t":-24,"a":0.12},{"c":"k90","i":19,"t":-17,"a":0.145},{"c":"k90","i":20,"t":-11,"a":0.17},{"c":"k90","i":21,"t":-6,"a":0.188},{"c":"k90","i":22,"t":-3,"a":0.195},{"c":"k90","i":23,"t":0,"a":0.193},{"c":"k90","i":24,"t":3,"a":0.183},{"c":"k90","i":25,"t":6,"a":0.165},{"c":"k90","i":26,"t":9,"a":0.146},{"c":"k90","i":27,"t":14,"a":0.128},{"c":"k90","i":28,"t":22,"a":0.107},{"c":"k90","i":29,"t":33,"a":0.09},{"c":"k90","i":30,"t":45,"a":0.076},{"c":"k90","i":31,"t":60,"a":0.064},{"c":"k90","i":32,"t":80,"a":0.057},{"c":"k90","i":33,"t":106,"a":0.053},{"c":"k90","i":34,"t":125,"a":0.055},{"c":"k90","i":35,"t":140,"a":0.062},{"c":"k90","i":36,"t":150,"a":0.072},{"c":"k90","i":37,"t":157,"a":0.088},{"c":"k90","i":38,"t":162,"a":0.105},{"c":"k90","i":39,"t":166,"a":0.125},{"c":"k90","i":40,"t":169,"a":0.15},{"c":"k90","i":41,"t":171.5,"a":0.185},{"c":"k90","i":42,"t":173.5,"a":0.23},{"c":"k90","i":43,"t":175.3,"a":0.3},{"c":"k90","i":44,"t":176.7,"a":0.38},{"c":"k90","i":45,"t":177.8,"a":0.48},{"c":"k90","i":46,"t":178.7,"a":0.6},{"c":"k90","i":47,"t":179.3,"a":0.75},{"c":"k90","i":48,"t":179.8,"a":1}
],
"legbox":[{"x1":-176.7,"x2":-59.2,"y1":0.606,"y2":0.992}],
"patches":[{"k":"39","x1":-172.7,"x2":-157.1,"y1":0.768,"y2":0.794},{"k":"68","x1":-172.7,"x2":-157.1,"y1":0.6985,"y2":0.7249},{"k":"90","x1":-172.7,"x2":-157.1,"y1":0.6293,"y2":0.6557}],
"legmain":[{"t":-150.6,"a":0.926,"s":"a₀ = 0.01"},{"t":-152,"a":0.85,"s":"θ₀ = −(83"},{"t":-76,"a":0.85,"s":")°"},{"t":-150.6,"a":0.761,"s":"39 % C.L."},{"t":-150.6,"a":0.692,"s":"68 % C.L."},{"t":-150.6,"a":0.623,"s":"90 % C.L."}],
"legsmall":[{"t":-99.2,"a":0.9555,"s":"+0.10"},{"t":-99.2,"a":0.9176,"s":"−0.01"},{"t":-96,"a":0.8781,"s":"+97"},{"t":-96,"a":0.8369,"s":"−263"}]
},
"layer":[
{
 "data":{"name":"poly"},
 "encoding":{
  "x":{"field":"t","type":"quantitative","scale":{"domain":[-180,180]},"axis":{"orient":"bottom","values":[-180,-150,-120,-90,-60,-30,0,30,60,90,120,150,180],"format":"d","ticks":false,"labelPadding":7,"title":"θ₀ [deg]","titlePadding":1}},
  "y":{"field":"a","type":"quantitative","scale":{"domain":[0,1]},"axis":{"orient":"left","values":[0,0.1,0.2,0.3,0.4,0.5,0.6,0.7,0.8,0.9,1],"format":".1f","ticks":false,"labelPadding":4,"title":"a₀","titleFontStyle":"italic","titlePadding":6}},
  "order":{"field":"i","type":"quantitative"},
  "fill":{"field":"b","type":"nominal","scale":{"domain":["C0","S0","A0","Hd","Hs"],"range":["#FF7F50","#90EE90","#ADD8E6","#DA70D6","#F0E68C"]},
   "legend":{"orient":"none","legendX":259,"legendY":5,"title":null,"symbolType":"M-1,-0.4H1V0.4H-1Z","symbolSize":400,"symbolStrokeWidth":1.5,"labelFont":"Liberation Serif","labelFontSize":16,"labelColor":"#000","labelOffset":6,"labelLimit":300,"rowPadding":8,"padding":5,"strokeColor":"#333","fillColor":"#fff",
   "labelExpr":"datum.value === 'C0' ? 'C₀(B⁰ → J/ψρ⁰)' : datum.value === 'S0' ? 'S₀(B⁰ → J/ψρ⁰)' : datum.value === 'A0' ? 'A₀ᶜᴾ(B⁰ₛ → J/ψK\u0304*⁰)' : datum.value === 'Hd' ? 'H₀(B⁰ → J/ψρ⁰)' : 'H₀(B⁰ₛ → J/ψK\u0304*⁰)'"}}
 },
 "layer":[
  {"transform":[{"filter":"datum.b === 'Hd'"}],"mark":{"type":"line","filled":true,"clip":true}},
  {"transform":[{"filter":"datum.b === 'Hs'"}],"mark":{"type":"line","filled":true,"clip":true}},
  {"transform":[{"filter":"datum.b === 'S0'"}],"mark":{"type":"line","filled":true,"clip":true}},
  {"transform":[{"filter":"datum.b === 'C0'"}],"mark":{"type":"line","filled":true,"clip":true}},
  {"transform":[{"filter":"datum.b === 'A0'"}],"mark":{"type":"line","filled":true,"clip":true}},
  {"transform":[{"filter":"datum.b === 'CL39'"}],"mark":{"type":"line","filled":true,"clip":true,"fillOpacity":0.13,"stroke":"#000","strokeWidth":1.3},"encoding":{"fill":{"value":"#000"}}},
  {"transform":[{"filter":"datum.b !== 'A0' && datum.b !== 'CL39'"}],"mark":{"type":"line","clip":true,"strokeWidth":1},
   "encoding":{"fill":{"value":"transparent"},"stroke":{"field":"b","type":"nominal","scale":{"domain":["C0","S0","A0","Hd","Hs"],"range":["#C8402A","#008000","#0000FF","#C71585","#FFA500"]},
   "legend":{"orient":"none","legendX":259,"legendY":5,"title":null,"symbolType":"M-1,-0.4H1V0.4H-1Z","symbolSize":400,"symbolStrokeWidth":1.5,"labelFont":"Liberation Serif","labelFontSize":16,"labelColor":"#000","labelOffset":6,"labelLimit":300,"rowPadding":8,"padding":5,"strokeColor":"#333","fillColor":"#fff",
   "labelExpr":"datum.value === 'C0' ? 'C₀(B⁰ → J/ψρ⁰)' : datum.value === 'S0' ? 'S₀(B⁰ → J/ψρ⁰)' : datum.value === 'A0' ? 'A₀ᶜᴾ(B⁰ₛ → J/ψK\u0304*⁰)' : datum.value === 'Hd' ? 'H₀(B⁰ → J/ψρ⁰)' : 'H₀(B⁰ₛ → J/ψK\u0304*⁰)'"}}}}
 ]
},
{"data":{"name":"curves"},"transform":[{"filter":"datum.c === 'c0mid'"}],"mark":{"type":"line","clip":true,"color":"#A52018","strokeWidth":1.3},
 "encoding":{"x":{"field":"t","type":"quantitative","scale":{"domain":[-180,180]},"axis":null},"y":{"field":"a","type":"quantitative","scale":{"domain":[0,1]},"axis":null},"order":{"field":"i","type":"quantitative"},"detail":{"field":"c"}}},
{"data":{"name":"curves"},"transform":[{"filter":"datum.c === 's0mid'"}],"mark":{"type":"line","clip":true,"color":"#006400","strokeWidth":1.5},
 "encoding":{"x":{"field":"t","type":"quantitative","scale":{"domain":[-180,180]},"axis":null},"y":{"field":"a","type":"quantitative","scale":{"domain":[0,1]},"axis":null},"order":{"field":"i","type":"quantitative"},"detail":{"field":"c"}}},
{"data":{"name":"curves"},"transform":[{"filter":"datum.c === 'bout' || datum.c === 'bneg'"}],"mark":{"type":"line","clip":true,"color":"#0000FF","strokeWidth":1.2},
 "encoding":{"x":{"field":"t","type":"quantitative","scale":{"domain":[-180,180]},"axis":null},"y":{"field":"a","type":"quantitative","scale":{"domain":[0,1]},"axis":null},"order":{"field":"i","type":"quantitative"},"detail":{"field":"c"}}},
{"data":{"name":"curves"},"transform":[{"filter":"datum.c === 'bmid'"}],"mark":{"type":"line","clip":true,"color":"#0000FF","strokeWidth":1.5},
 "encoding":{"x":{"field":"t","type":"quantitative","scale":{"domain":[-180,180]},"axis":null},"y":{"field":"a","type":"quantitative","scale":{"domain":[0,1]},"axis":null},"order":{"field":"i","type":"quantitative"},"detail":{"field":"c"}}},
{"data":{"name":"curves"},"transform":[{"filter":"datum.c === 'mmid'"}],"mark":{"type":"line","clip":true,"color":"#C71585","strokeWidth":1.5},
 "encoding":{"x":{"field":"t","type":"quantitative","scale":{"domain":[-180,180]},"axis":null},"y":{"field":"a","type":"quantitative","scale":{"domain":[0,1]},"axis":null},"order":{"field":"i","type":"quantitative"},"detail":{"field":"c"}}},
{"data":{"name":"curves"},"transform":[{"filter":"datum.c === 'yoval'"}],"mark":{"type":"line","clip":true,"color":"#FFA500","strokeWidth":1.5},
 "encoding":{"x":{"field":"t","type":"quantitative","scale":{"domain":[-180,180]},"axis":null},"y":{"field":"a","type":"quantitative","scale":{"domain":[0,1]},"axis":null},"order":{"field":"i","type":"quantitative"},"detail":{"field":"c"}}},
{"data":{"name":"curves"},"transform":[{"filter":"datum.c === 'k68'"}],"mark":{"type":"line","clip":true,"color":"#000","strokeWidth":1.5},
 "encoding":{"x":{"field":"t","type":"quantitative","scale":{"domain":[-180,180]},"axis":null},"y":{"field":"a","type":"quantitative","scale":{"domain":[0,1]},"axis":null},"order":{"field":"i","type":"quantitative"},"detail":{"field":"c"}}},
{"data":{"name":"curves"},"transform":[{"filter":"datum.c === 'k90'"}],"mark":{"type":"line","clip":true,"color":"#000","strokeWidth":1.3,"strokeDash":[5,3.5]},
 "encoding":{"x":{"field":"t","type":"quantitative","scale":{"domain":[-180,180]},"axis":null},"y":{"field":"a","type":"quantitative","scale":{"domain":[0,1]},"axis":null},"order":{"field":"i","type":"quantitative"},"detail":{"field":"c"}}},
{"data":{"values":[{"t":-83,"a":0.01}]},"mark":{"type":"square","filled":true,"color":"#000","size":18,"opacity":1},
 "encoding":{"x":{"field":"t","type":"quantitative","scale":{"domain":[-180,180]},"axis":null},"y":{"field":"a","type":"quantitative","scale":{"domain":[0,1]},"axis":null}}},
{"data":{"values":[{"t":141,"a":0.448,"s":"LHCb"}]},"mark":{"type":"text","font":"Liberation Serif","fontSize":18,"align":"center","baseline":"alphabetic","color":"#111"},
 "encoding":{"x":{"field":"t","type":"quantitative","scale":{"domain":[-180,180]},"axis":null},"y":{"field":"a","type":"quantitative","scale":{"domain":[0,1]},"axis":null},"text":{"field":"s"}}},
{"data":{"name":"legbox"},"mark":{"type":"rect","fill":"#fff","stroke":"#333","strokeWidth":1},
 "encoding":{"x":{"field":"x1","type":"quantitative","scale":{"domain":[-180,180]},"axis":null},"x2":{"field":"x2"},"y":{"field":"y1","type":"quantitative","scale":{"domain":[0,1]},"axis":null},"y2":{"field":"y2"}}},
{"data":{"name":"patches"},"transform":[{"filter":"datum.k === '39'"}],"mark":{"type":"rect","fill":"#8a8a8a","stroke":"#000","strokeWidth":1.2},
 "encoding":{"x":{"field":"x1","type":"quantitative","scale":{"domain":[-180,180]},"axis":null},"x2":{"field":"x2"},"y":{"field":"y1","type":"quantitative","scale":{"domain":[0,1]},"axis":null},"y2":{"field":"y2"}}},
{"data":{"name":"patches"},"transform":[{"filter":"datum.k === '68'"}],"mark":{"type":"rect","fill":"#fff","stroke":"#000","strokeWidth":1.2},
 "encoding":{"x":{"field":"x1","type":"quantitative","scale":{"domain":[-180,180]},"axis":null},"x2":{"field":"x2"},"y":{"field":"y1","type":"quantitative","scale":{"domain":[0,1]},"axis":null},"y2":{"field":"y2"}}},
{"data":{"name":"patches"},"transform":[{"filter":"datum.k === '90'"}],"mark":{"type":"rect","fill":"#fff","stroke":"#000","strokeWidth":1.2,"strokeDash":[4,3]},
 "encoding":{"x":{"field":"x1","type":"quantitative","scale":{"domain":[-180,180]},"axis":null},"x2":{"field":"x2"},"y":{"field":"y1","type":"quantitative","scale":{"domain":[0,1]},"axis":null},"y2":{"field":"y2"}}},
{"data":{"name":"legmain"},"mark":{"type":"text","font":"Liberation Serif","fontSize":16,"align":"left","baseline":"alphabetic","color":"#000"},
 "encoding":{"x":{"field":"t","type":"quantitative","scale":{"domain":[-180,180]},"axis":null},"y":{"field":"a","type":"quantitative","scale":{"domain":[0,1]},"axis":null},"text":{"field":"s"}}},
{"data":{"name":"legsmall"},"mark":{"type":"text","font":"Liberation Serif","fontSize":10,"align":"left","baseline":"alphabetic","color":"#000"},
 "encoding":{"x":{"field":"t","type":"quantitative","scale":{"domain":[-180,180]},"axis":null},"y":{"field":"a","type":"quantitative","scale":{"domain":[0,1]},"axis":null},"text":{"field":"s"}}},
{"data":{"values":[{"t":0,"a":0}]},"mark":{"type":"point","opacity":0},
 "encoding":{"x":{"field":"t","type":"quantitative","scale":{"domain":[-180,180]},"axis":{"orient":"bottom","values":[-180,-150,-120,-90,-60,-30,0,30,60,90,120,150,180],"labels":false,"domain":false,"tickSize":-7,"title":null}},
  "y":{"field":"a","type":"quantitative","scale":{"domain":[0,1]},"axis":{"orient":"left","values":[0,0.1,0.2,0.3,0.4,0.5,0.6,0.7,0.8,0.9,1],"labels":false,"domain":false,"tickSize":-7,"title":null}}}},
{"data":{"values":[{"t":0,"a":0}]},"mark":{"type":"point","opacity":0},
 "encoding":{"x":{"field":"t","type":"quantitative","scale":{"domain":[-180,180]},"axis":{"orient":"top","values":[-180,-150,-120,-90,-60,-30,0,30,60,90,120,150,180],"labels":false,"domain":true,"tickSize":-7,"title":null}},
  "y":{"field":"a","type":"quantitative","scale":{"domain":[0,1]},"axis":{"orient":"right","values":[0,0.1,0.2,0.3,0.4,0.5,0.6,0.7,0.8,0.9,1],"labels":false,"domain":true,"tickSize":-7,"title":null}}}},
{"data":{"values":[{"t":0,"a":0}]},"mark":{"type":"point","opacity":0},
 "encoding":{"x":{"field":"t","type":"quantitative","scale":{"domain":[-180,180]},"axis":{"orient":"bottom","values":[-175,-170,-165,-160,-155,-145,-140,-135,-130,-125,-115,-110,-105,-100,-95,-85,-80,-75,-70,-65,-55,-50,-45,-40,-35,-25,-20,-15,-10,-5,5,10,15,20,25,35,40,45,50,55,65,70,75,80,85,95,100,105,110,115,125,130,135,140,145,155,160,165,170,175],"labels":false,"domain":false,"tickSize":-3.5,"title":null}},
  "y":{"field":"a","type":"quantitative","scale":{"domain":[0,1]},"axis":{"orient":"left","values":[0.02,0.04,0.06,0.08,0.12,0.14,0.16,0.18,0.22,0.24,0.26,0.28,0.32,0.34,0.36,0.38,0.42,0.44,0.46,0.48,0.52,0.54,0.56,0.58,0.62,0.64,0.66,0.68,0.72,0.74,0.76,0.78,0.82,0.84,0.86,0.88,0.92,0.94,0.96,0.98],"labels":false,"domain":false,"tickSize":-3.5,"title":null}}}},
{"data":{"values":[{"t":0,"a":0}]},"mark":{"type":"point","opacity":0},
 "encoding":{"x":{"field":"t","type":"quantitative","scale":{"domain":[-180,180]},"axis":{"orient":"top","values":[-175,-170,-165,-160,-155,-145,-140,-135,-130,-125,-115,-110,-105,-100,-95,-85,-80,-75,-70,-65,-55,-50,-45,-40,-35,-25,-20,-15,-10,-5,5,10,15,20,25,35,40,45,50,55,65,70,75,80,85,95,100,105,110,115,125,130,135,140,145,155,160,165,170,175],"labels":false,"domain":false,"tickSize":-3.5,"title":null}},
  "y":{"field":"a","type":"quantitative","scale":{"domain":[0,1]},"axis":{"orient":"right","values":[0.02,0.04,0.06,0.08,0.12,0.14,0.16,0.18,0.22,0.24,0.26,0.28,0.32,0.34,0.36,0.38,0.42,0.44,0.46,0.48,0.52,0.54,0.56,0.58,0.62,0.64,0.66,0.68,0.72,0.74,0.76,0.78,0.82,0.84,0.86,0.88,0.92,0.94,0.96,0.98],"labels":false,"domain":false,"tickSize":-3.5,"title":null}}}}
],
"resolve":{"axis":{"x":"independent","y":"independent"}}
}
